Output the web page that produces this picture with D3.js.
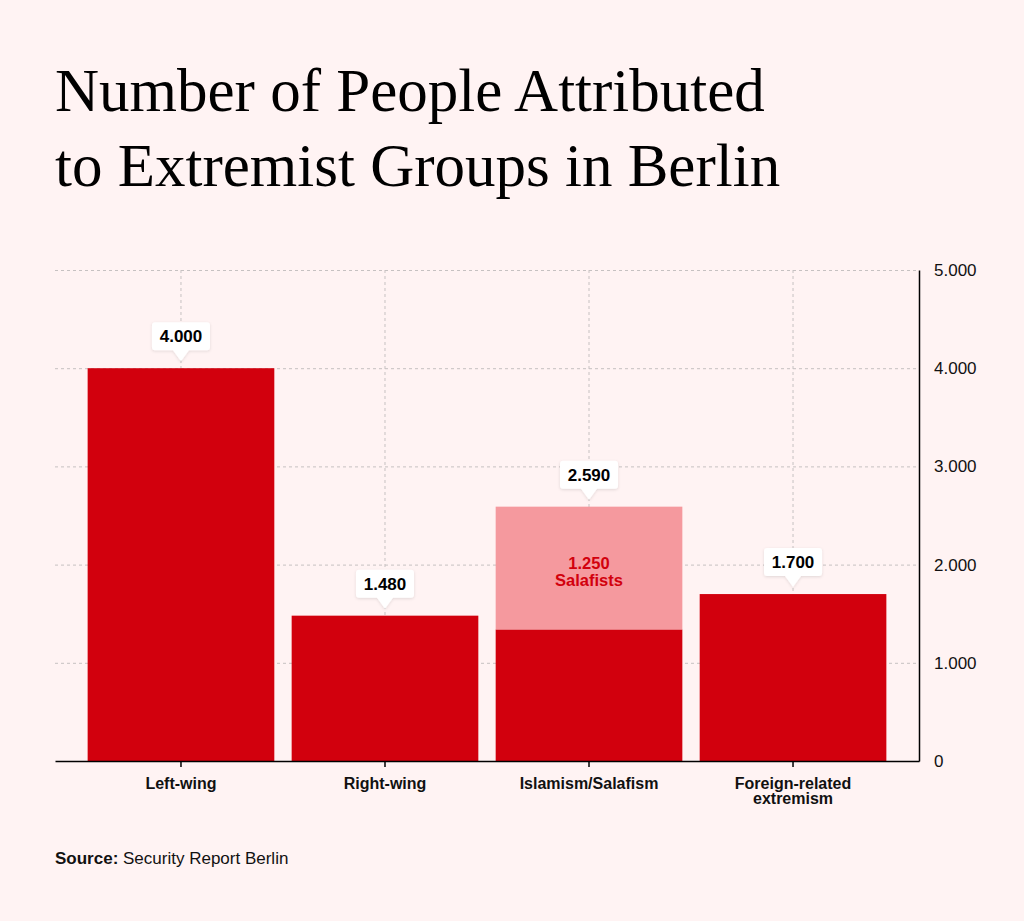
<!DOCTYPE html>
<html>
<head>
<meta charset="utf-8">
<script src="https://cdn.jsdelivr.net/npm/d3@7"></script>
<style>
  html, body { margin: 0; padding: 0; background: #fff3f3; }
  svg { display: block; }
</style>
</head>
<body>
<svg id="chart"></svg>
<script>
// chart data
const categories = ["Left-wing", "Right-wing", "Islamism/Salafism", "Foreign-related extremism"];
const totals = [4000, 1480, 2590, 1700];
const salafists = [0, 0, 1250, 0];
const yTicks = [0, 1000, 2000, 3000, 4000, 5000];
const titleLines = ["Number of People Attributed", "to Extremist Groups in Berlin"];

const W = 1024, H = 921;
const m = { left: 55, right: 919, top: 270, bottom: 761 };
const red = "#d2000d", pink = "#f5999e";
const sans = "'Liberation Sans', Arial, sans-serif";
const fmt = d => d3.format(",")(d).replace(/,/g, ".");

const svg = d3.select("#chart").attr("width", W).attr("height", H);
svg.append("rect").attr("width", W).attr("height", H).attr("fill", "#fff3f3");

const defs = svg.append("defs");
const sh = defs.append("filter").attr("id", "shadow").attr("x", "-30%").attr("y", "-30%").attr("width", "160%").attr("height", "160%");
sh.append("feDropShadow").attr("dx", 0).attr("dy", 1).attr("stdDeviation", 1.5).attr("flood-color", "#000").attr("flood-opacity", 0.12);

// title
svg.append("g").selectAll("text").data(titleLines).join("text")
  .attr("x", 55).attr("y", (d, i) => 111 + i * 75)
  .attr("font-family", "'Liberation Serif', 'Times New Roman', serif")
  .attr("font-size", 61).attr("fill", "#000")
  .text(d => d);

const x = d3.scaleBand().domain(categories).range([m.left, m.right]).paddingInner(0.085).paddingOuter(0.16);
const y = d3.scaleLinear().domain([0, 5000]).range([m.bottom, m.top]);

// gridlines
const grid = svg.append("g").attr("stroke", "#c6c1c1").attr("stroke-width", 1).attr("stroke-dasharray", "3,3");
grid.selectAll(".h").data(yTicks.filter(d => d > 0)).join("line")
  .attr("x1", m.left).attr("x2", m.right)
  .attr("y1", d => y(d) + 0.5).attr("y2", d => y(d) + 0.5);
grid.selectAll(".v").data(categories).join("line")
  .attr("x1", d => x(d) + x.bandwidth() / 2).attr("x2", d => x(d) + x.bandwidth() / 2)
  .attr("y1", m.top).attr("y2", m.bottom);

// bars
const bars = svg.append("g");
bars.selectAll(".base").data(categories).join("rect")
  .attr("x", d => x(d)).attr("width", x.bandwidth())
  .attr("y", (d, i) => y(totals[i] - salafists[i]))
  .attr("height", (d, i) => y(0) - y(totals[i] - salafists[i]))
  .attr("fill", red);
bars.selectAll(".top").data(categories.filter((d, i) => salafists[i] > 0)).join("rect")
  .attr("x", d => x(d)).attr("width", x.bandwidth())
  .attr("y", d => y(totals[categories.indexOf(d)]))
  .attr("height", d => y(totals[categories.indexOf(d)] - salafists[categories.indexOf(d)]) - y(totals[categories.indexOf(d)]))
  .attr("fill", pink);

// salafist label
categories.forEach((c, i) => {
  if (!salafists[i]) return;
  const cy = (y(totals[i]) + y(totals[i] - salafists[i])) / 2;
  const t = svg.append("text").attr("text-anchor", "middle")
    .attr("font-family", sans).attr("font-weight", "bold")
    .attr("font-size", 16.5).attr("fill", red);
  t.append("tspan").attr("x", x(c) + x.bandwidth() / 2).attr("y", cy + 0.5).text(fmt(salafists[i]));
  t.append("tspan").attr("x", x(c) + x.bandwidth() / 2).attr("y", cy + 17.5).text("Salafists");
});

// value callouts
const callouts = svg.append("g").selectAll("g").data(categories).join("g")
  .attr("transform", (d, i) => `translate(${x(d) + x.bandwidth() / 2},${y(totals[i]) - 7})`);
callouts.append("path")
  .attr("d", "M-26,-39 h52 a3,3 0 0 1 3,3 v22 a3,3 0 0 1 -3,3 h-18 l-8,11 l-8,-11 h-18 a3,3 0 0 1 -3,-3 v-22 a3,3 0 0 1 3,-3 z")
  .attr("fill", "#fff").attr("filter", "url(#shadow)");
callouts.append("text").attr("text-anchor", "middle").attr("y", -19)
  .attr("font-family", sans).attr("font-weight", "bold")
  .attr("font-size", 17).attr("fill", "#000")
  .text((d, i) => fmt(totals[i]));

// right axis
const yAxis = svg.append("g").attr("transform", `translate(${m.right},0)`)
  .call(d3.axisRight(y).tickValues(yTicks).tickSize(0).tickPadding(15).tickFormat(fmt));
yAxis.select(".domain").attr("stroke", "#000").attr("stroke-width", 1.5);
yAxis.selectAll("text").attr("font-family", sans)
  .attr("font-size", 17).attr("fill", "#111");

// bottom axis
const xAxis = svg.append("g").attr("transform", `translate(0,${m.bottom})`)
  .call(d3.axisBottom(x).tickSize(6).tickSizeOuter(0));
xAxis.select(".domain").attr("stroke", "#000").attr("stroke-width", 1.5);
xAxis.selectAll(".tick line").attr("stroke", "#000").attr("stroke-width", 1.5);
xAxis.selectAll("text").remove();
xAxis.selectAll(".tick").each(function (d) {
  const words = d === "Foreign-related extremism" ? ["Foreign-related", "extremism"] : [d];
  const t = d3.select(this).append("text").attr("text-anchor", "middle")
    .attr("font-family", sans).attr("font-weight", "bold")
    .attr("font-size", 16).attr("fill", "#111");
  words.forEach((w, i) => t.append("tspan").attr("x", 0).attr("y", 28 + i * 15).text(w));
});

// source
const src = svg.append("text").attr("x", 55).attr("y", 864)
  .attr("font-family", sans).attr("font-size", 17).attr("fill", "#111");
src.append("tspan").attr("font-weight", "bold").text("Source:");
src.append("tspan").text(" Security Report Berlin");
</script>
</body>
</html>
